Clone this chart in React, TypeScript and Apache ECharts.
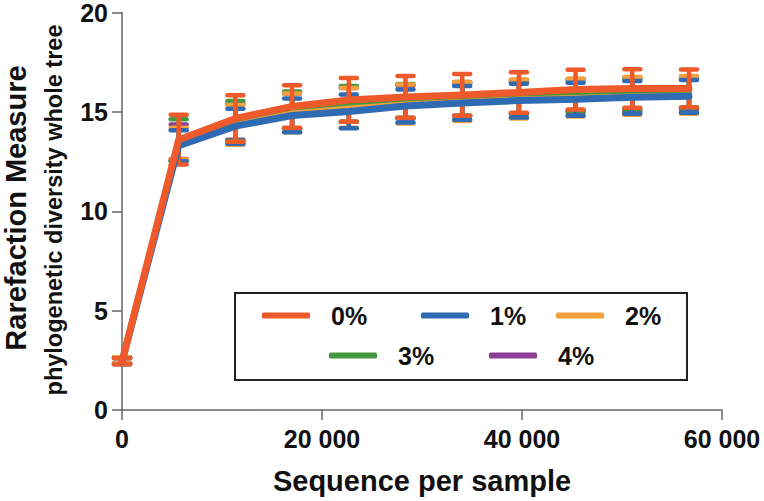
import React, { useEffect, useRef } from "react";
import * as echarts from "echarts";

const depths = [10, 5670, 11340, 17010, 22680, 28350, 34020, 39690, 45360, 51030, 56700];

const seriesNames = ["0%", "1%", "2%", "3%", "4%"];
const seriesColors = ["#EE5A2A", "#2F6BB3", "#F5A03E", "#45983F", "#8A3F94"];

const mean0 = [2.45, 13.6, 14.67, 15.27, 15.6, 15.75, 15.85, 15.98, 16.12, 16.18, 16.18];
const sd0 = [0.15, 1.25, 1.17, 1.07, 1.1, 1.05, 1.05, 1.02, 1.0, 0.97, 0.95];
const mean1 = [2.45, 13.3, 14.28, 14.82, 15.02, 15.3, 15.45, 15.57, 15.63, 15.73, 15.78];
const sd1 = [0.15, 0.78, 0.88, 0.85, 0.85, 0.83, 0.85, 0.85, 0.83, 0.82, 0.82];
const mean2 = [2.5, 13.4, 14.35, 14.95, 15.2, 15.4, 15.52, 15.65, 15.72, 15.8, 15.85];
const sd2 = [0.15, 0.8, 1.0, 0.98, 1.0, 0.98, 0.98, 0.98, 0.95, 0.95, 0.95];
const mean3 = [2.5, 13.6, 14.55, 15.1, 15.4, 15.55, 15.65, 15.75, 15.85, 15.9, 15.95];
const sd3 = [0.15, 1.03, 1.0, 0.93, 0.9, 0.85, 0.85, 0.85, 0.8, 0.78, 0.75];
const mean4 = [2.5, 13.5, 14.5, 15.05, 15.35, 15.5, 15.62, 15.72, 15.8, 15.85, 15.9];
const sd4 = [0.15, 0.87, 0.9, 0.88, 0.85, 0.83, 0.82, 0.82, 0.8, 0.8, 0.78];

const means = [mean0, mean1, mean2, mean3, mean4];
const sds = [sd0, sd1, sd2, sd3, sd4];

const xTicks = [0, 20000, 40000, 60000];
const yTicks = [0, 5, 10, 15, 20];

const FONT = "'Liberation Sans', Arial, Helvetica, sans-serif";

// legend item placement [left, top]
const legendPos: [number, number][] = [
  [262, 303],
  [421, 303],
  [556, 303],
  [329, 343],
  [489, 343],
];

export default function App() {
  const ref = useRef<HTMLDivElement>(null);
  useEffect(() => {
    if (!ref.current) return;
    const chart = echarts.init(ref.current, undefined, { renderer: "svg" });
    const order = [4, 3, 2, 1, 0];
    const series: any[] = [];
    order.forEach((k) => {
      const color = seriesColors[k];
      series.push({
        type: "custom",
        name: seriesNames[k] + " err",
        data: depths.map((x, i) => [x, means[k][i] - sds[k][i], means[k][i] + sds[k][i]]),
        renderItem: (params: any, api: any) => {
          const x = api.value(0);
          const pLo = api.coord([x, api.value(1)]);
          const pHi = api.coord([x, api.value(2)]);
          const hw = 8;
          const st = { stroke: color, lineWidth: 4.5, lineCap: "round" };
          return {
            type: "group",
            children: [
              { type: "line", shape: { x1: pLo[0], y1: pLo[1], x2: pHi[0], y2: pHi[1] }, style: { ...st, lineCap: "butt" } },
              { type: "line", shape: { x1: pLo[0] - hw, y1: pLo[1], x2: pLo[0] + hw, y2: pLo[1] }, style: st },
              { type: "line", shape: { x1: pHi[0] - hw, y1: pHi[1], x2: pHi[0] + hw, y2: pHi[1] }, style: st },
            ],
          };
        },
        silent: true,
        clip: false,
      });
      series.push({
        type: "line",
        name: seriesNames[k],
        data: depths.map((x, i) => [x, means[k][i]]),
        symbol: "none",
        lineStyle: { color, width: k <= 1 ? 7 : 5, cap: "round", join: "round" },
        itemStyle: { color },
      });
    });

    const legends = seriesNames.map((n, k) => ({
      show: true,
      data: [{ name: n, icon: "roundRect" }],
      left: legendPos[k][0],
      top: legendPos[k][1],
      padding: 0,
      itemWidth: 48,
      itemHeight: 6,
      selectedMode: false,
      textStyle: {
        fontFamily: FONT,
        fontSize: 25,
        fontWeight: "bold",
        color: "#111",
        padding: [0, 0, 0, 16],
      },
    }));

    chart.setOption({
      animation: false,
      backgroundColor: "#ffffff",
      grid: { left: 122, right: 42, top: 10, bottom: 91, containLabel: false },
      xAxis: {
        type: "value",
        min: xTicks[0],
        max: xTicks[xTicks.length - 1],
        interval: xTicks[1] - xTicks[0],
        splitLine: { show: false },
        axisLine: { show: true, lineStyle: { color: "#666", width: 1.5 } },
        axisTick: { show: true, length: 10, lineStyle: { color: "#666", width: 1.5 } },
        axisLabel: {
          margin: 16,
          fontFamily: FONT,
          fontSize: 25,
          fontWeight: "bold",
          color: "#111",
          formatter: (v: number) => String(v).replace(/\B(?=(\d{3})+(?!\d))/g, " "),
        },
      },
      yAxis: {
        type: "value",
        min: yTicks[0],
        max: yTicks[yTicks.length - 1],
        interval: yTicks[1] - yTicks[0],
        splitLine: { show: false },
        axisLine: { show: true, lineStyle: { color: "#666", width: 1.5 } },
        axisTick: { show: true, length: 10, lineStyle: { color: "#666", width: 1.5 } },
        axisLabel: {
          margin: 14,
          fontFamily: FONT,
          fontSize: 25,
          fontWeight: "bold",
          color: "#111",
        },
      },
      legend: legends,
      graphic: [
        {
          type: "rect",
          shape: { x: 235, y: 293, width: 452, height: 87 },
          style: { fill: "none", stroke: "#222", lineWidth: 2 },
          z: 100,
        },
        {
          type: "text",
          x: 16,
          y: 208,
          rotation: Math.PI / 2,
          style: {
            text: "Rarefaction Measure",
            font: `bold 29px ${FONT}`,
            fill: "#111",
            align: "center",
            verticalAlign: "middle",
          },
        },
        {
          type: "text",
          x: 54,
          y: 210,
          rotation: Math.PI / 2,
          style: {
            text: "phylogenetic diversity whole tree",
            font: `bold 23.5px ${FONT}`,
            fill: "#111",
            align: "center",
            verticalAlign: "middle",
          },
        },
        {
          type: "text",
          x: 422,
          y: 481,
          style: {
            text: "Sequence per sample",
            font: `bold 29px ${FONT}`,
            fill: "#111",
            align: "center",
            verticalAlign: "middle",
          },
        },
      ],
      series,
    });
    return () => chart.dispose();
  }, []);
  return <div ref={ref} style={{ width: 764, height: 501, position: "absolute", left: 0, top: 0 }} />;
}
